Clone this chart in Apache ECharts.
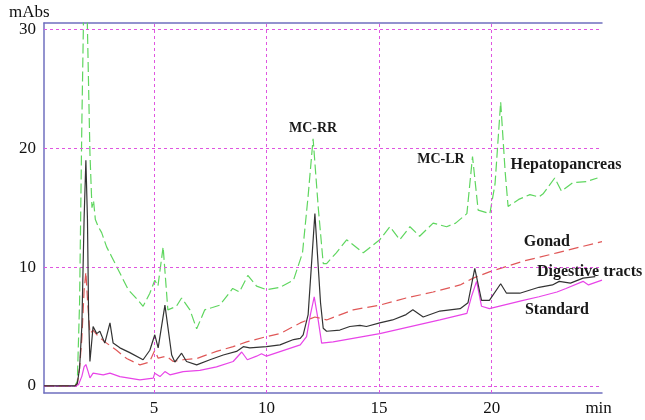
<!DOCTYPE html>
<html>
<head>
<meta charset="utf-8">
<script src="https://cdn.jsdelivr.net/npm/echarts@6/dist/echarts.min.js"></script>
<style>html,body{margin:0;padding:0;background:#fff}#c{width:645px;height:420px}</style>
</head>
<body>
<div id="c"></div>
<script>
// Retention time (min) and absorbance (mAbs)
const hepX = [0.12,1.5,1.6,1.7,1.8,1.95,2.05,2.16,2.25,2.32,2.4,2.53,2.68,2.9,3.12,3.49,3.86,4.3,4.52,4.82,5.04,5.18,5.41,5.62,6.0,6.23,6.6,6.9,7.26,7.6,7.93,8.5,8.8,9.17,9.56,10.0,10.6,11.2,11.6,11.85,12.07,12.3,12.52,12.67,13.1,13.56,14.3,15.03,15.48,15.92,16.37,16.8,17.4,18.0,18.4,18.9,19.15,19.4,19.92,20.15,20.4,20.6,20.73,21.2,21.7,22.1,22.3,22.8,23.1,23.6,24.2,24.7];
const hepY = [0,0,0.4,7,22,40,30,19.6,15.0,15.6,14.0,13.4,12.9,11.7,10.9,9.5,8.1,7.2,6.7,7.8,8.9,8.4,11.7,6.4,6.7,7.4,6.4,4.8,6.4,6.6,6.8,8.2,7.9,9.3,8.4,8.1,8.3,8.9,11.2,16,20.8,15,10.3,10.3,11.2,12.3,11.2,12.3,13.4,12.3,13.4,12.6,13.7,13.4,13.7,14.5,19.3,14.8,14.5,17,23.9,18,15.1,15.7,16.1,15.9,16.2,17.5,16.4,17.1,17.2,17.5];

const digX = [0.12,1.5,1.6,1.7,1.8,1.9,1.98,2.05,2.1,2.16,2.3,2.46,2.6,2.82,3.05,3.19,3.49,3.93,4.52,4.82,5.04,5.19,5.49,5.79,5.93,6.23,6.45,6.9,7.49,8.08,8.67,8.97,9.26,10.0,10.6,11.2,11.5,11.63,11.85,12.15,12.4,12.52,12.67,13.26,13.7,14.15,14.44,15.03,15.6,16.2,16.5,16.96,17.7,18.6,18.95,19.25,19.55,19.9,20.4,20.66,21.25,22.1,22.7,23.0,23.5,24.06,24.6];
const digY = [0,0,0.2,1.5,5,14,19.0,14,6,2.05,5.0,4.4,4.6,3.6,5.3,3.6,3.2,2.8,2.2,3.0,4.3,3.2,6.8,2.6,2.0,2.75,2.05,1.77,2.2,2.6,2.9,3.3,3.2,3.3,3.45,3.9,4.0,4.3,6,14.5,7,4.85,4.6,4.7,5.0,5.1,5.0,5.3,5.55,6.0,6.4,5.8,6.3,6.5,7,9.9,7.2,7.2,8.6,7.8,7.8,8.3,8.5,8.8,8.65,9.07,9.2];

const gonX = [0.12,1.5,1.6,1.7,1.8,1.9,1.98,2.06,2.16,2.3,2.53,2.9,3.34,3.79,4.38,4.8,5.04,5.19,5.56,5.86,6.3,6.9,7.19,7.78,8.52,9.12,10.0,10.6,11.5,12.15,12.67,13.85,15.03,16.2,17.4,18.6,19.18,19.9,21.4,22.9,24.9];
const gonY = [0,0,0.2,1.5,4,8,9.6,7,4.4,4.7,4.15,3.6,3.0,2.3,1.77,2.0,3.0,2.33,2.5,2.05,2.2,2.3,2.5,2.9,3.3,3.7,4.15,4.4,5.3,5.8,5.55,6.4,6.8,7.4,7.9,8.5,9.07,9.6,10.5,11.2,12.15];

const stdX = [0.12,1.5,1.65,1.8,1.9,1.98,2.08,2.16,2.3,2.75,3.05,3.49,4.38,4.97,5.04,5.27,5.49,5.71,6.3,7.04,7.78,8.52,8.9,9.15,9.56,9.78,10.0,11.5,11.78,11.95,12.12,12.3,12.45,12.96,15.03,17.7,18.9,19.1,19.33,19.55,19.9,21.4,22.1,22.9,23.3,24.06,24.3,24.9];
const stdY = [0,0,0.1,0.8,1.6,1.8,1.2,0.67,1.07,0.93,1.07,0.78,0.5,0.65,1.07,0.78,1.2,0.93,1.2,1.3,1.6,2.05,2.85,2.2,2.5,2.7,2.5,3.45,4.15,6,7.5,5.5,3.6,3.7,4.4,5.55,6.1,7.5,8.8,6.7,6.5,7.2,7.5,7.9,8.2,8.8,8.5,8.9];

const xTicks = [5, 10, 15, 20];
const yTicks = [0, 10, 20, 30];
const xUnitAt = 24.75; // where the "min" unit label sits

const peakNotes = [
  {text: 'MC-RR', x: 12.07, y: 21.7},
  {text: 'MC-LR', x: 17.75, y: 19.1}
];
const seriesNotes = [
  {text: 'Hepatopancreas', x: 23.3, y: 18.6},
  {text: 'Gonad', x: 22.45, y: 12.1},
  {text: 'Digestive tracts', x: 24.35, y: 9.6},
  {text: 'Standard', x: 22.9, y: 6.4}
];

const zip = (xs, ys) => xs.map((x, i) => [x, ys[i]]);
const serif = 'Liberation Serif';
const frame = '#6f6fbf';
const gridCol = '#e055e0';

const chart = echarts.init(document.getElementById('c'), null, {renderer: 'canvas'});
const lineBase = {type: 'line', showSymbol: false, symbol: 'none', clip: true, animation: false, smooth: false};
const noteLabel = size => ({show: true, position: 'inside', fontFamily: serif, fontWeight: 'bold', fontSize: size, color: '#1a1a1a'});
const notePoints = (list, size) => list.map(n => ({coord: [n.x, n.y], value: n.text, label: Object.assign(noteLabel(size), {formatter: n.text})}));

chart.setOption({
  backgroundColor: '#ffffff',
  animation: false,
  grid: {left: 44, top: 23, right: 43, bottom: 27, containLabel: false},
  xAxis: [{
    type: 'value', min: 0.12, max: 24.9, position: 'bottom',
    axisLine: {show: true, onZero: false, lineStyle: {color: frame, width: 1.5}},
    axisTick: {show: false},
    splitLine: {show: false},
    axisLabel: {
      customValues: xTicks.concat([xUnitAt]), margin: 7,
      fontFamily: serif, fontSize: 17, color: '#111',
      formatter: v => (v === xUnitAt ? 'min' : String(v))
    }
  }, {
    type: 'value', min: 0.12, max: 24.9, position: 'top',
    axisLine: {show: true, onZero: false, lineStyle: {color: frame, width: 1.5}},
    axisTick: {show: false}, axisLabel: {show: false}, splitLine: {show: false}
  }],
  yAxis: {
    type: 'value', min: -0.6, max: 30.55,
    axisLine: {show: true, onZero: false, lineStyle: {color: frame, width: 1.5}},
    axisTick: {show: false},
    splitLine: {show: false},
    axisLabel: {customValues: yTicks, margin: 8, fontFamily: serif, fontSize: 17, color: '#111'}
  },
  graphic: [{
    type: 'text', left: 9, top: 4,
    style: {text: 'mAbs', font: '17px "Liberation Serif"', fill: '#111'}
  }],
  series: [
    Object.assign({}, lineBase, {
      name: 'Standard', data: zip(stdX, stdY), z: 3,
      lineStyle: {color: '#e844e8', width: 1.2},
      markLine: {
        silent: true, symbol: ['none', 'none'], animation: false,
        label: {show: false},
        lineStyle: {color: gridCol, type: [3, 3], width: 1},
        data: xTicks.map(v => ({xAxis: v})).concat(yTicks.map(v => ({yAxis: v})))
      },
      markPoint: {
        silent: true, animation: false, symbol: 'circle', symbolSize: 1,
        itemStyle: {color: 'rgba(0,0,0,0)'},
        data: notePoints(peakNotes, 14).concat(notePoints(seriesNotes, 16))
      }
    }),
    Object.assign({}, lineBase, {
      name: 'Gonad', data: zip(gonX, gonY), z: 4,
      lineStyle: {color: '#e05858', width: 1.2, type: [10, 5]}
    }),
    Object.assign({}, lineBase, {
      name: 'Digestive tracts', data: zip(digX, digY), z: 5,
      lineStyle: {color: '#333333', width: 1.2}
    }),
    Object.assign({}, lineBase, {
      name: 'Hepatopancreas', data: zip(hepX, hepY), z: 2,
      lineStyle: {color: '#5fd65f', width: 1.2, type: [10, 4]}
    })
  ]
});
</script>
</body>
</html>
